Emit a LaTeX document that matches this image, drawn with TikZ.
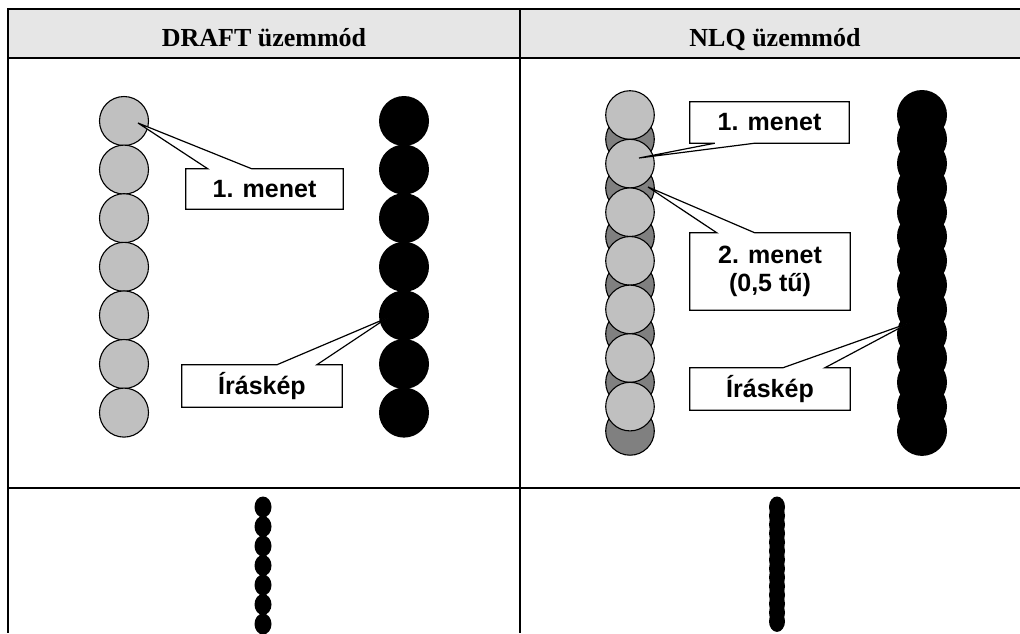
\documentclass[tikz,border=0pt]{standalone}
\usepackage{fontspec}
\setmainfont{Liberation Serif}
\setsansfont{Liberation Sans}
\usetikzlibrary{calc}
\pgfdeclarelayer{bg}
\pgfdeclarelayer{mid}
\pgfsetlayers{bg,mid,main}
\definecolor{lgray}{HTML}{C0C0C0}
\definecolor{dgray}{HTML}{808080}
\definecolor{hdrfill}{HTML}{E6E6E6}
\begin{document}
\begin{tikzpicture}[x=1pt,y=-1pt,
  tabline/.style={line width=2pt},
  hdr/.style={font=\fontsize{26}{30}\selectfont\bfseries, inner sep=0pt, anchor=base},
  lbl/.style={font=\fontsize{25}{28}\selectfont\sffamily\bfseries, align=center, inner sep=0pt},
  co/.style={draw=black, line width=1.2pt, fill=white, line join=miter},
  lgc/.style={draw=black, line width=1.1pt, fill=lgray},
  dgc/.style={draw=black, line width=1.1pt, fill=dgray}]
\useasboundingbox (0,0) rectangle (1020,633);

% header
\begin{pgfonlayer}{bg}
  \fill[hdrfill] (8,9) rectangle (1020,58);
\end{pgfonlayer}
\node[hdr] (h1) at (264,46.5) {DRAFT üzemmód};
\node[hdr] (h2) at (775,46.5) {NLQ üzemmód};

% table lines
\draw[tabline] (7,9) -- (1020,9);
\draw[tabline] (8,58) -- (1020,58);
\draw[tabline] (8,488) -- (1020,488);
\draw[tabline] (8,8) -- (8,633);
\draw[tabline] (520,8) -- (520,633);

% dots
\begin{pgfonlayer}{bg}
  \foreach \i in {0,...,6} \draw[lgc] (124,{121+48.6*\i}) circle[radius=24.5pt];
  \foreach \i in {0,...,6} \fill[black] (404,{121+48.6*\i}) circle[radius=25pt];
  \foreach \i in {0,...,6} \draw[dgc] (630,{139.3+48.6*\i}) circle[radius=24.3pt];
  \foreach \i in {0,...,6} \draw[lgc] (630,{115+48.6*\i}) circle[radius=24.3pt];
  \foreach \i in {0,...,13} \fill[black] (922,{115+24.3*\i}) circle[radius=25pt];
  \foreach \i in {0,...,6} \fill[black] (263,{507+19.5*\i}) ellipse[x radius=8.5pt, y radius=10.5pt];
  \foreach \i in {0,...,13} \fill[black] (777,{507+8.8*\i}) ellipse[x radius=8pt, y radius=10.5pt];
\end{pgfonlayer}

% callout tips
\coordinate (t1) at (138,123);
\coordinate (t2) at (387,318);
\coordinate (t3) at (639,158);
\coordinate (t4) at (648,187);
\coordinate (t5) at (909,323);

% callout boxes
\node[lbl, minimum width=157pt, minimum height=40pt] (c1) at (264.5,189) {1. menet};
\node[lbl, minimum width=160pt, minimum height=42pt] (c2) at (262,386) {Íráskép};
\node[lbl, minimum width=159pt, minimum height=41pt] (c3) at (769.5,122.5) {1. menet};
\node[lbl, minimum width=160pt, minimum height=77pt] (c4) at (770,271.5) {2. menet\\(0,5 tű)};
\node[lbl, minimum width=160pt, minimum height=42pt] (c5) at (770,389) {Íráskép};

\begin{pgfonlayer}{mid}
  \draw[co] (c1.south west) -- (c1.north west) -- ($(c1.north west)+(22,0)$) -- (t1)
    -- ($(c1.north west)+(66,0)$) -- (c1.north east) -- (c1.south east) -- cycle;
  \draw[co] (c2.south west) -- (c2.north west) -- ($(c2.north west)+(95,0)$) -- (t2)
    -- ($(c2.north west)+(135,0)$) -- (c2.north east) -- (c2.south east) -- cycle;
  \draw[co] (c3.north west) -- (c3.north east) -- (c3.south east) -- ($(c3.south west)+(65,0)$)
    -- (t3) -- ($(c3.south west)+(25,0)$) -- (c3.south west) -- cycle;
  \draw[co] (c4.south west) -- (c4.north west) -- ($(c4.north west)+(27,0)$) -- (t4)
    -- ($(c4.north west)+(65,0)$) -- (c4.north east) -- (c4.south east) -- cycle;
  \draw[co] (c5.south west) -- (c5.north west) -- ($(c5.north west)+(93,0)$) -- (t5)
    -- ($(c5.north west)+(135,0)$) -- (c5.north east) -- (c5.south east) -- cycle;
\end{pgfonlayer}
\end{tikzpicture}
\end{document}
